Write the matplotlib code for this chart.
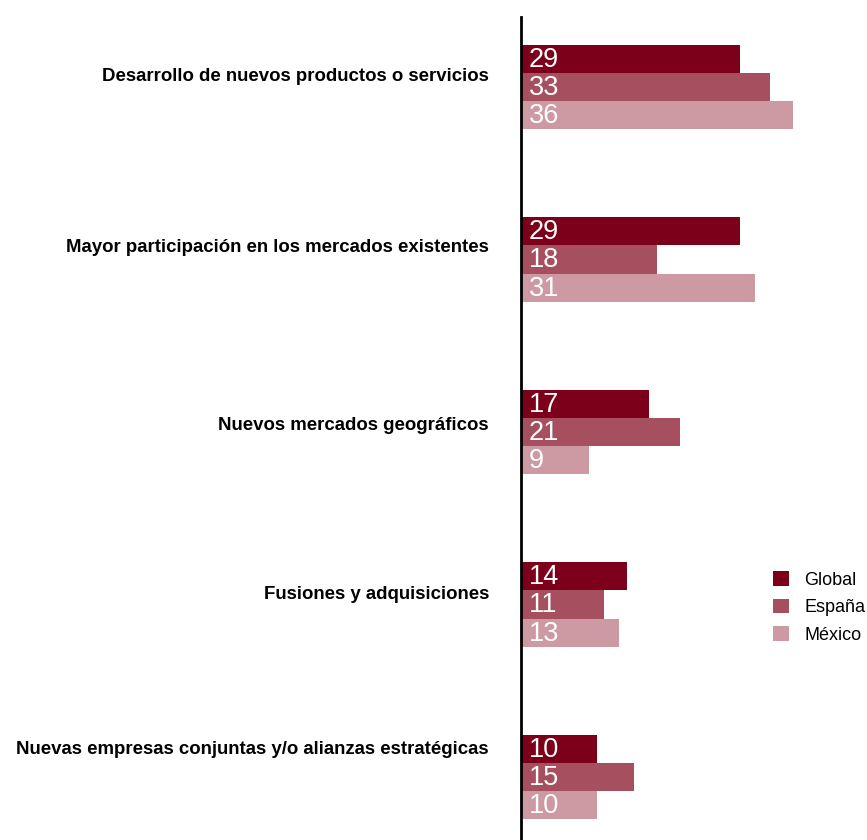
import numpy as np
import matplotlib
matplotlib.use("Agg")
import matplotlib.pyplot as plt

plt.rcParams["font.family"] = ["Liberation Sans", "DejaVu Sans"]

categories = [
    "Desarrollo de nuevos productos o servicios",
    "Mayor participación en los mercados existentes",
    "Nuevos mercados geográficos",
    "Fusiones y adquisiciones",
    "Nuevas empresas conjuntas y/o alianzas estratégicas",
]
series = ["Global", "España", "México"]
global_vals = [29, 29, 17, 14, 10]
espana_vals = [33, 18, 21, 11, 15]
mexico_vals = [36, 31, 9, 13, 10]
colors = ["#7d001a", "#a64f5f", "#cd9aa3"]

W, H = 867, 840
fig = plt.figure(figsize=(W / 100, H / 100), dpi=100)
ax = fig.add_axes([521 / W, 0, 1 - 521 / W, 1 - 17 / H])

bar_h = 0.164
y = np.arange(len(categories))
for k, (vals, col) in enumerate(zip([global_vals, espana_vals, mexico_vals], colors)):
    pos = y + (k - 1) * bar_h
    ax.barh(pos, vals, height=bar_h, color=col, label=series[k], linewidth=0)
    for p, v in zip(pos, vals):
        ax.text(1.0, p + 0.005, str(v), color="white", fontsize=19.5,
                va="center", ha="left")

ax.set_xlim(0, (W - 521) / 7.55)
ax.set_ylim(4.365, -0.406)

# category names sit a little above each group's centre
shift = [-0.063, -0.068, -0.04, -0.06, -0.16]
for i, name in enumerate(categories):
    ax.text(-32 / 7.55, i + shift[i], name, ha="right", va="center",
            fontsize=13.4, fontweight="bold", clip_on=False)

ax.set_xticks([])
ax.set_yticks([])
for s in ["top", "right", "bottom"]:
    ax.spines[s].set_visible(False)
ax.spines["left"].set_linewidth(2)
ax.spines["left"].set_color("black")

fig.legend(loc="upper left", bbox_to_anchor=(773 / W, 1 - 571 / H),
           frameon=False, fontsize=13, handlelength=0.89, handleheight=0.89,
           handletextpad=0.83, labelspacing=0.55, borderpad=0, borderaxespad=0)

fig.savefig("out.png", dpi=100)
